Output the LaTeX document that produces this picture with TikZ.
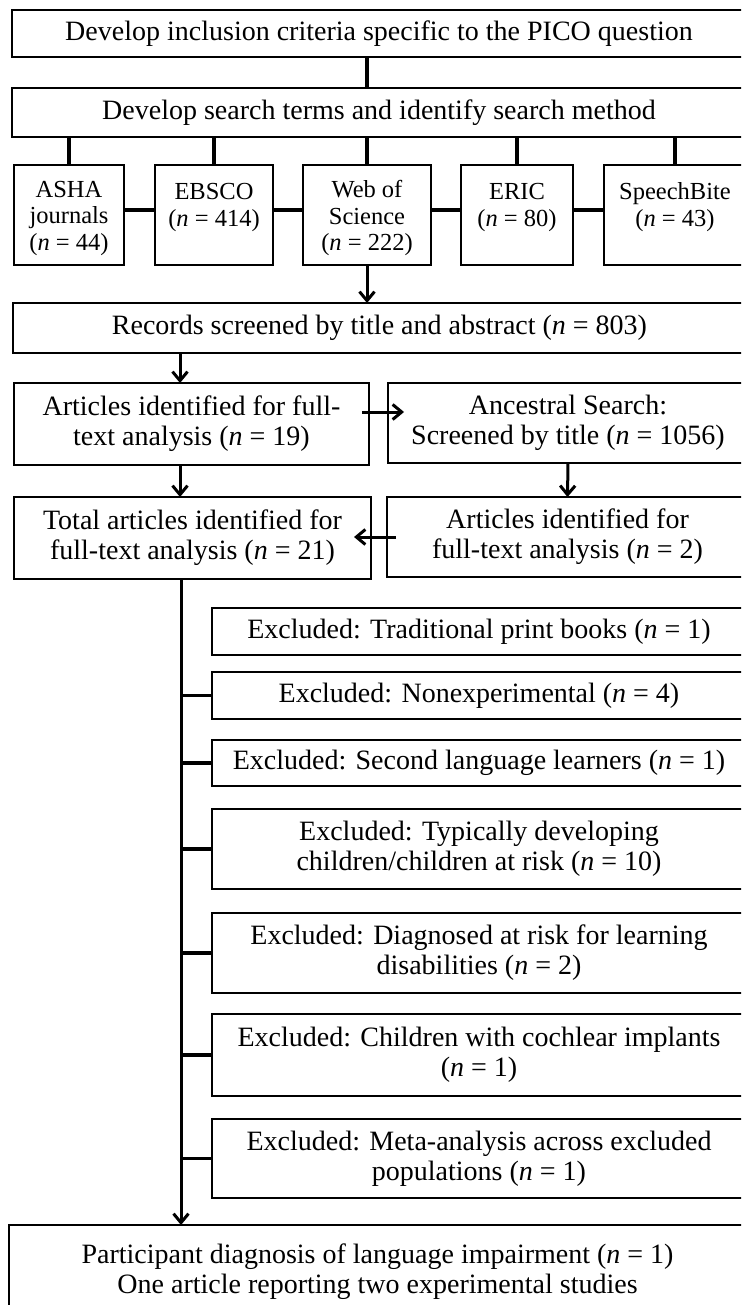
\documentclass[tikz,border=0pt]{standalone}
\usepackage{fontspec}
\setmainfont{Liberation Serif}
\usetikzlibrary{arrows.meta,calc}
\begin{document}
\begin{tikzpicture}[x=1pt,y=-1pt,
  box/.style={draw=black,line width=1.5pt,rectangle,inner sep=0pt,outer sep=0pt,
    align=center,font=\fontsize{28}{30}\selectfont},
  sbox/.style={box,minimum height=100pt},
  stxt/.style={yshift=-3pt,align=center,inner sep=0pt,font=\fontsize{24.5}{26.5}\selectfont},
  conn/.style={draw=black,line width=3.2pt},
  arr/.style={draw=black,line width=3pt,-{Straight Barb[length=9pt,width=15pt]}}]
\useasboundingbox (0,0) rectangle (741,1305);
\fill[white] (0,0) rectangle (741,1305);
\clip (0,0) rectangle (741,1305);

\node[box,minimum width=734pt,minimum height=47pt] (b1) at (379,33.5)
  {Develop inclusion criteria specific to the PICO question};
\node[box,minimum width=734pt,minimum height=49pt] (b2) at (379,112.5)
  {Develop search terms and identify search method};

\node[sbox,minimum width=110pt,label={[stxt]center:{ASHA\\journals\\(\textit{n} = 44)}}] (asha) at (69,215) {};
\node[sbox,minimum width=118pt,label={[stxt]center:{EBSCO\\(\textit{n} = 414)\\~}}] (ebsco) at (214,215) {};
\node[sbox,minimum width=128pt,label={[stxt]center:{Web of\\Science\\(\textit{n} = 222)}}] (wos) at (367,215) {};
\node[sbox,minimum width=112pt,label={[stxt]center:{ERIC\\(\textit{n} = 80)\\~}}] (eric) at (517,215) {};
\node[sbox,minimum width=142pt,label={[stxt]center:{SpeechBite\\(\textit{n} = 43)\\~}}] (sb) at (675,215) {};

\node[box,minimum width=733pt,minimum height=50pt] (rec) at (379.5,328)
  {Records screened by title and abstract (\textit{n} = 803)};

\node[box,minimum width=355pt,minimum height=82pt] (art) at (191.5,424)
  {Articles identified for full-\\text analysis (\textit{n} = 19)};
\node[box,minimum width=360pt,minimum height=80pt] (anc) at (568,423)
  {Ancestral Search:\\Screened by title (\textit{n} = 1056)};
\node[box,minimum width=357pt,minimum height=82pt] (tot) at (192.5,538)
  {Total articles identified for\\full-text analysis (\textit{n} = 21)};
\node[box,minimum width=361pt,minimum height=80pt] (af2) at (567.5,537)
  {Articles identified for\\full-text analysis (\textit{n} = 2)};

\node[box,minimum width=534pt,minimum height=47pt] (ex1) at (479,631.5)
  {Excluded: Traditional print books (\textit{n} = 1)};
\node[box,minimum width=534pt,minimum height=47pt] (ex2) at (479,695.5)
  {Excluded: Nonexperimental (\textit{n} = 4)};
\node[box,minimum width=534pt,minimum height=46pt] (ex3) at (479,763)
  {Excluded: Second language learners (\textit{n} = 1)};
\node[box,minimum width=534pt,minimum height=80pt] (ex4) at (479,849)
  {Excluded: Typically developing\\children/children at risk (\textit{n} = 10)};
\node[box,minimum width=534pt,minimum height=80pt] (ex5) at (479,953)
  {Excluded: Diagnosed at risk for learning\\disabilities (\textit{n} = 2)};
\node[box,minimum width=534pt,minimum height=82pt] (ex6) at (479,1055)
  {Excluded: Children with cochlear implants\\(\textit{n} = 1)};
\node[box,minimum width=534pt,minimum height=79pt] (ex7) at (479,1158.5)
  {Excluded: Meta-analysis across excluded\\populations (\textit{n} = 1)};

\node[box,minimum width=737pt,minimum height=93pt] (part) at (377.5,1271.5)
  {Participant diagnosis of language impairment (\textit{n} = 1)\\One article reporting two experimental studies};

% helper coordinates
\coordinate (cl) at (180,0);
\coordinate (cv) at (181,0);
\coordinate (r1) at (0,412);
\coordinate (r2) at (0,537);

% top connectors
\draw[conn] (b1.south -| wos.north) -- (b2.north -| wos.north);
\foreach \n in {asha,ebsco,wos,eric,sb}
  \draw[conn] (\n.north) -- (\n.north |- b2.south);
\draw[conn] ([yshift=5pt]asha.east) -- ([yshift=5pt]ebsco.west);
\draw[conn] ([yshift=5pt]ebsco.east) -- ([yshift=5pt]wos.west);
\draw[conn] ([yshift=5pt]wos.east) -- ([yshift=5pt]eric.west);
\draw[conn] ([yshift=5pt]eric.east) -- ([yshift=5pt]sb.west);

% arrows
\draw[arr] (wos.south) -- (wos.south |- rec.north);
\draw[arr] (rec.south -| cl) -- (art.north -| cl);
\draw[arr] ($(art.east |- r1)+(-7,0)$) -- ($(anc.west |- r1)+(16,0)$);
\draw[arr] (art.south -| cl) -- (tot.north -| cl);
\draw[arr] (anc.south) -- (af2.north);
\draw[arr] ($(af2.west |- r2)+(9,0)$) -- ($(tot.east |- r2)+(-17,0)$);

% exclusion trunk
\draw[arr] (tot.south -| cv) -- (part.north -| cv);
\foreach \n in {ex2,ex3,ex4,ex5,ex6,ex7}
  \draw[conn] (\n.west) -- (\n.west -| cv);
\end{tikzpicture}
\end{document}
